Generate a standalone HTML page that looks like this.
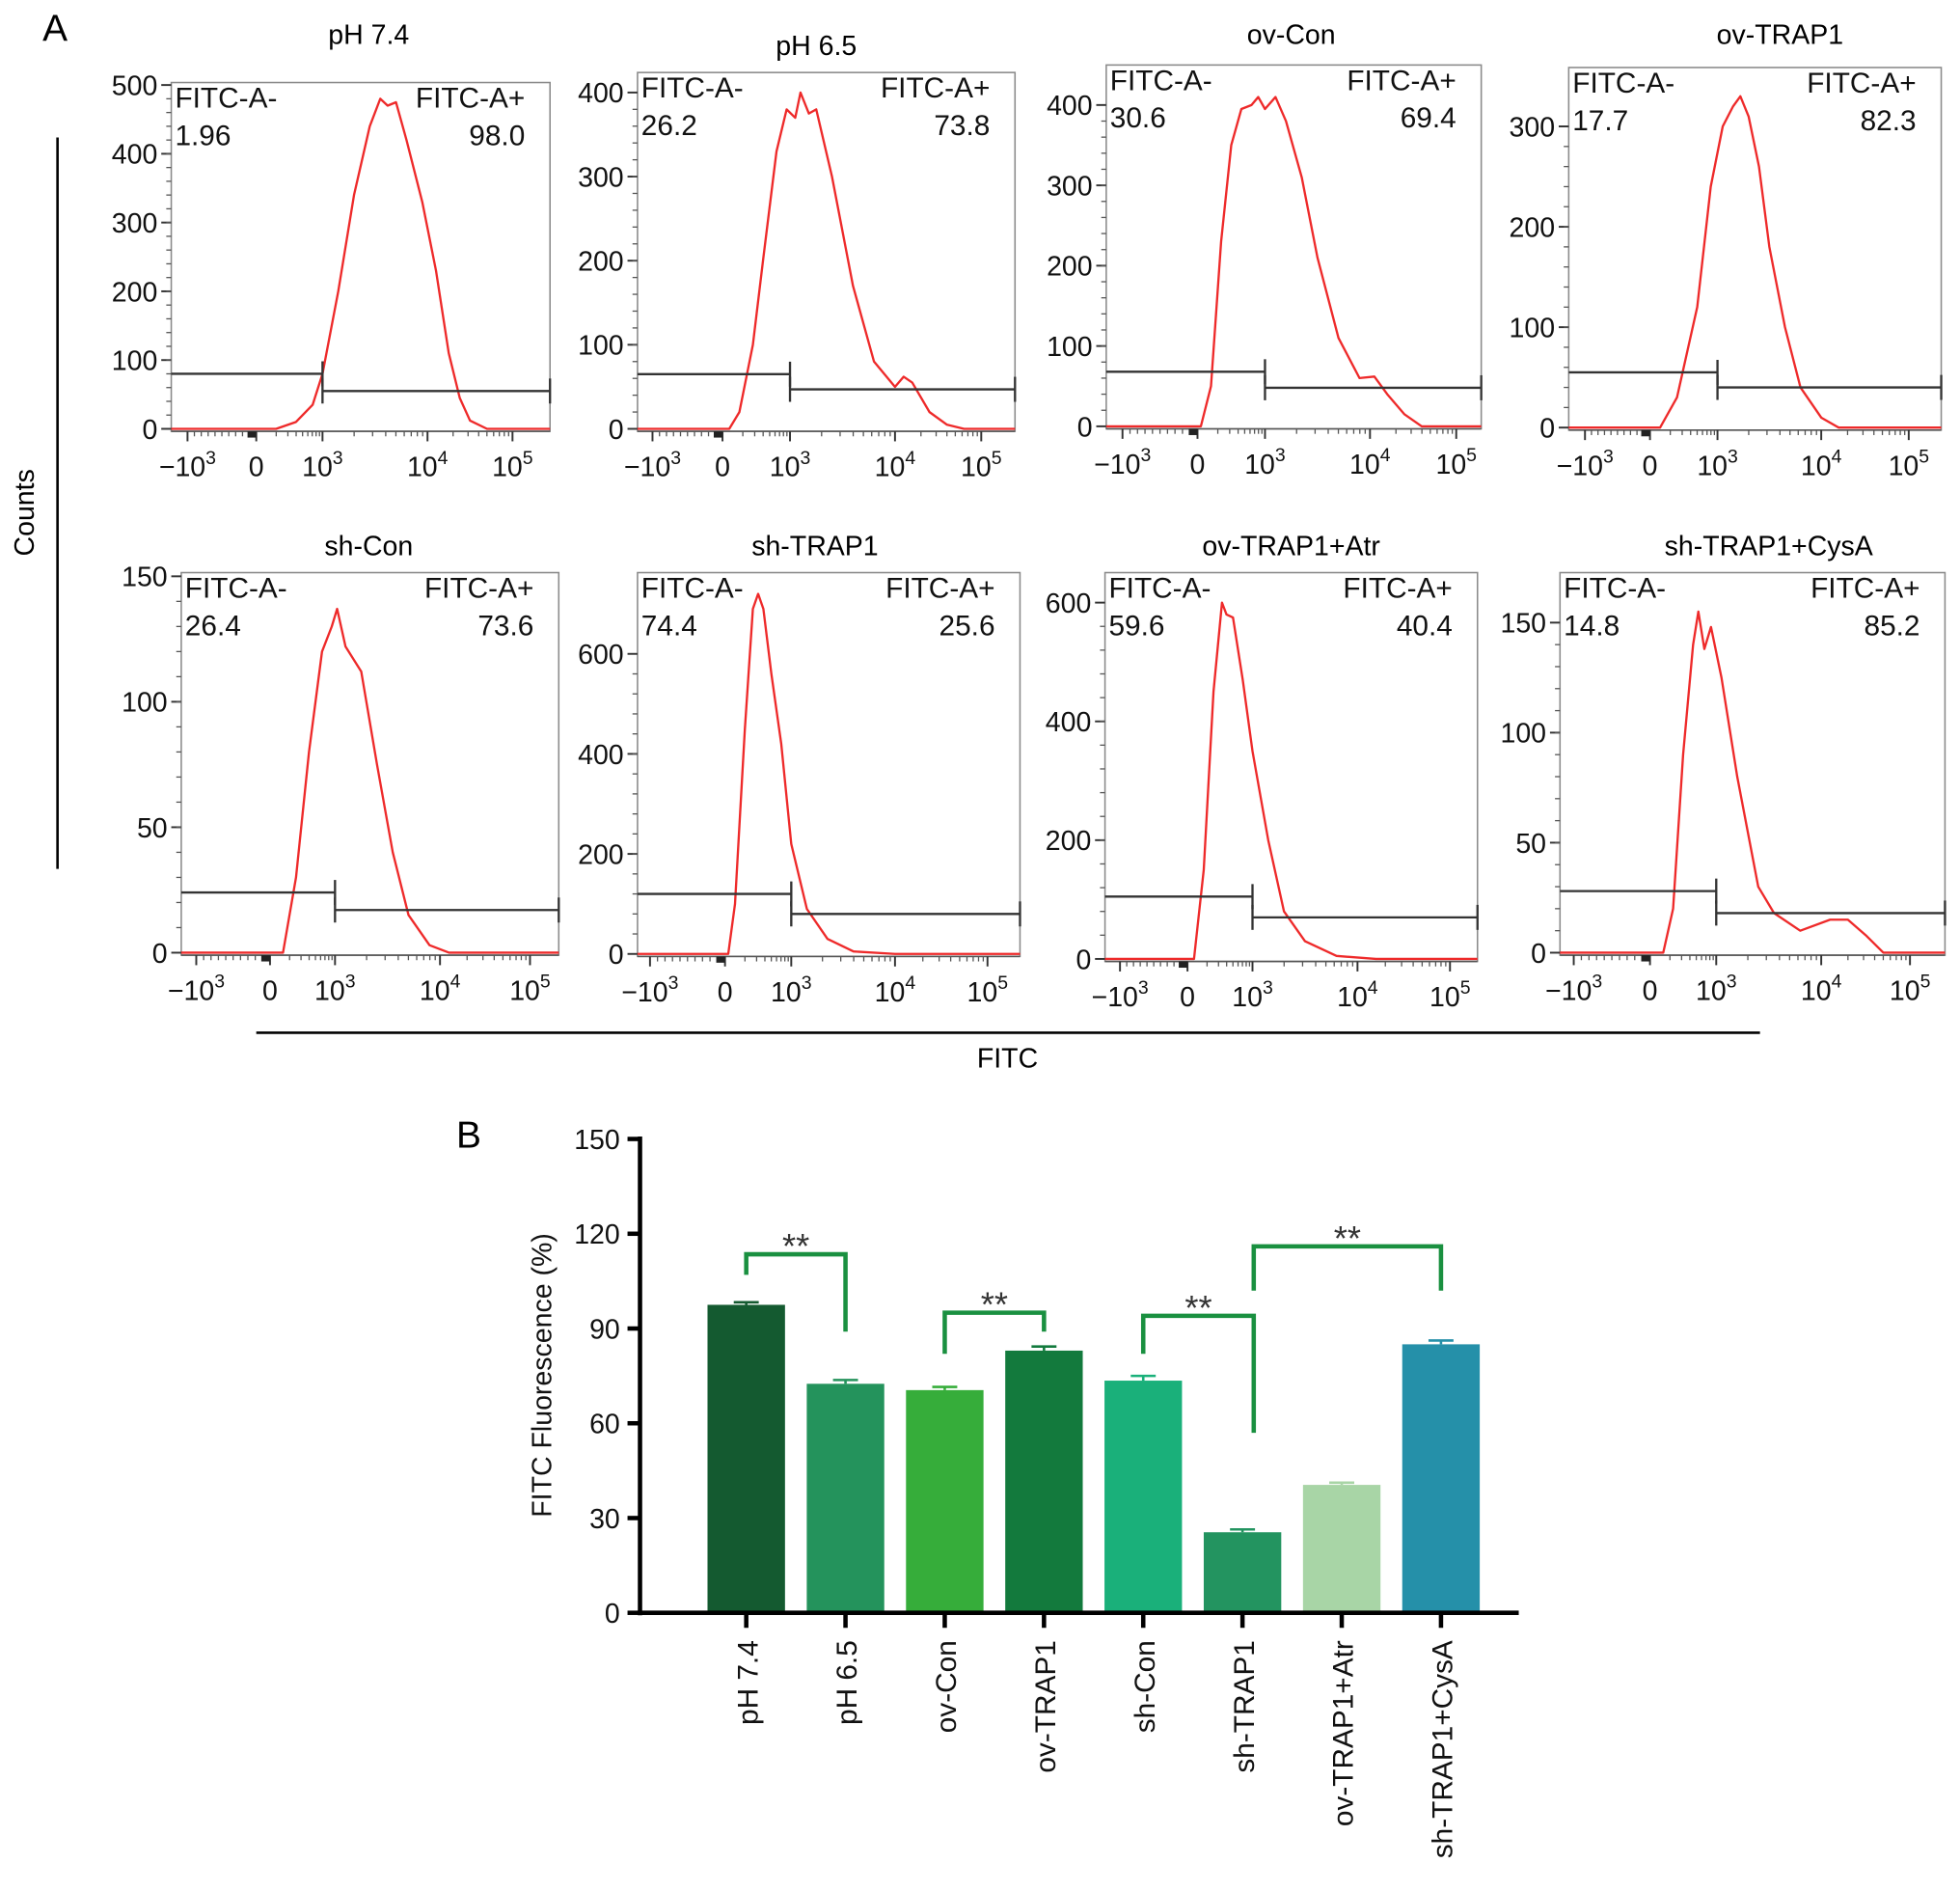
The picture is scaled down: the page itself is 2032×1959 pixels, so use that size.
<!DOCTYPE html>
<html><head><meta charset="utf-8"><style>
html,body{margin:0;padding:0;background:#fff}
svg{display:block;font-family:"Liberation Sans",Arial,sans-serif}
</style></head><body>
<svg id="fig" xmlns="http://www.w3.org/2000/svg" width="2032" height="1959" viewBox="0 0 1568 1511.7">
<text x="34" y="33" font-size="30">A</text>
<text x="365" y="918" font-size="30">B</text>
<line x1="46" y1="110" x2="46" y2="695" stroke="#000" stroke-width="2"/>
<text x="0" y="0" transform="translate(27,410) rotate(-90)" text-anchor="middle" font-size="22">Counts</text>
<line x1="205" y1="826" x2="1408" y2="826" stroke="#000" stroke-width="2"/>
<text x="806" y="854" text-anchor="middle" font-size="22">FITC</text>
<g id="hists"></g>
<g id="bars"></g>
</svg>
<script>
// ---------- Panel A data (x in decade units: -1=-10^3, 0=0, 1=10^3, 2=10^4, 3=10^5) ----------
const histTitles = ["pH 7.4","pH 6.5","ov-Con","ov-TRAP1","sh-Con","sh-TRAP1","ov-TRAP1+Atr","sh-TRAP1+CysA"];
const negPct = ["1.96","26.2","30.6","17.7","26.4","74.4","59.6","14.8"];
const posPct = ["98.0","73.8","69.4","82.3","73.6","25.6","40.4","85.2"];
const gateNeg = [80,65,68,55,24,120,105,28];
const gatePos = [55,47,48,40,17,80,70,18];
const yTickSets = [[0,100,200,300,400,500],[0,100,200,300,400],[0,100,200,300,400],[0,100,200,300],[0,50,100,150],[0,200,400,600],[0,200,400,600],[0,50,100,150]];
const curvePH74 = [[-1.4,0],[0.3,0],[0.6,10],[0.85,35],[1.0,80],[1.15,200],[1.3,340],[1.45,440],[1.55,480],[1.62,470],[1.7,475],[1.8,420],[1.95,330],[2.1,230],[2.25,110],[2.38,45],[2.5,12],[2.7,0],[3.5,0]];
const curvePH65 = [[-1.4,0],[0.1,0],[0.25,20],[0.45,100],[0.6,200],[0.8,330],[0.95,380],[1.05,370],[1.1,400],[1.18,375],[1.25,380],[1.4,300],[1.6,170],[1.8,80],[2.0,50],[2.1,62],[2.2,55],[2.4,20],[2.6,5],[2.8,0],[3.5,0]];
const curveOvCon = [[-1.4,0],[0.05,0],[0.2,50],[0.35,230],[0.5,350],[0.65,395],[0.8,400],[0.9,410],[1.0,395],[1.1,410],[1.2,380],[1.35,310],[1.5,210],[1.7,110],[1.9,60],[2.05,62],[2.2,40],[2.4,15],[2.6,0],[3.5,0]];
const curveOvTRAP1 = [[-1.4,0],[0.15,0],[0.4,30],[0.7,120],[0.9,240],[1.05,300],[1.15,320],[1.22,330],[1.3,310],[1.4,260],[1.5,180],[1.65,100],[1.8,40],[2.0,10],[2.2,0],[3.5,0]];
const curveShCon = [[-1.4,0],[0.2,0],[0.4,30],[0.6,80],[0.8,120],[0.95,130],[1.02,137],[1.1,122],[1.25,112],[1.4,75],[1.55,40],[1.7,15],[1.9,3],[2.1,0],[3.5,0]];
const curveShTRAP1 = [[-1.4,0],[0.05,0],[0.15,100],[0.3,450],[0.42,690],[0.5,720],[0.58,690],[0.7,560],[0.85,420],[1.0,220],[1.15,90],[1.35,30],[1.6,5],[2.0,0],[3.5,0]];
const curveOvAtr = [[-1.4,0],[0.1,0],[0.25,150],[0.4,450],[0.53,600],[0.6,580],[0.7,575],[0.85,470],[1.0,350],[1.15,200],[1.3,80],[1.5,30],[1.8,5],[2.2,0],[3.5,0]];
const curveShCysA = [[-1.4,0],[0.2,0],[0.35,20],[0.5,90],[0.65,140],[0.73,155],[0.82,138],[0.92,148],[1.05,125],[1.2,80],[1.4,30],[1.55,18],[1.8,10],[2.1,15],[2.3,15],[2.5,8],[2.7,0],[3.5,0]];
const curves = [curvePH74,curvePH65,curveOvCon,curveOvTRAP1,curveShCon,curveShTRAP1,curveOvAtr,curveShCysA];

// ---------- Panel B data ----------
const barCats = ["pH 7.4","pH 6.5","ov-Con","ov-TRAP1","sh-Con","sh-TRAP1","ov-TRAP1+Atr","sh-TRAP1+CysA"];
const barVals = [97.5,72.5,70.5,83,73.5,25.5,40.5,85];
const barErrs = [0.8,1.2,1.0,1.3,1.5,0.9,0.7,1.2];
const barTicks = [0,30,60,90,120,150];
const sigPairs = [[0,1],[2,3],[4,5],[5,7]];
const sigTop = [113.5,95,94,116];
const sigLeftEnd = [107,82,82,102];
const sigRightEnd = [89,89,57,102];

// ---------- layout (pixels) ----------
const layout = [
 {l:137,r:440,t:66,y0:343,xt:[150,205,258,342,410],k:0.55,tx:295,ty:35},
 {l:510,r:812,t:58,y0:343,xt:[522,578,632,716,785],k:0.6725,tx:653,ty:44},
 {l:885,r:1185,t:52,y0:341,xt:[898,958,1012,1096,1165],k:0.6425,tx:1033,ty:35},
 {l:1255,r:1553,t:54,y0:342,xt:[1268,1320,1374,1457,1527],k:0.803,tx:1424,ty:35},
 {l:145,r:447,t:458,y0:762,xt:[157,216,268,352,424],k:2.007,tx:295,ty:444},
 {l:510,r:816,t:458,y0:763,xt:[520,580,633,716,790],k:0.4,tx:652,ty:444},
 {l:884,r:1182,t:458,y0:767,xt:[896,950,1002,1086,1160],k:0.475,tx:1033,ty:444},
 {l:1248,r:1556,t:458,y0:762,xt:[1259,1320,1373,1457,1528],k:1.76,tx:1415,ty:444}
];
const NS="http://www.w3.org/2000/svg";
function mk(tag,attrs,parent,txt){const e=document.createElementNS(NS,tag);for(const a in attrs)e.setAttribute(a,attrs[a]);if(txt!==undefined)e.textContent=txt;parent.appendChild(e);return e;}
function xMap(L,d){const xt=L.xt;const i=Math.max(0,Math.min(3,Math.floor(d+1)));return xt[i]+(d+1-i)*(xt[i+1]-xt[i]);}
const hg=document.getElementById('hists');
layout.forEach((L,p)=>{
  const g=mk('g',{},hg);
  
  
  const yMap=v=>L.y0-v*L.k;
  const t=mk('text',{x:L.tx,y:L.ty,'text-anchor':'middle','font-size':22},g,histTitles[p]);
  
  
  const box=mk('rect',{x:L.l,y:L.t,width:L.r-L.l,height:L.y0-L.t+2,fill:'none',stroke:'#8a8a8a','stroke-width':1.2},g);
  
  
  yTickSets[p].forEach(v=>{
    const y=yMap(v);
    mk('line',{x1:L.l-8,y1:y,x2:L.l,y2:y,stroke:'#333','stroke-width':1.5},g);
    const tl=mk('text',{x:L.l-11,y:y+8,'text-anchor':'end','font-size':22,fill:'#111'},g,String(v));
    
    
  });
  const ys=yTickSets[p];const step=ys[1]-ys[0];
  for(let v=step/5;v<ys[ys.length-1];v+=step/5){mk('line',{x1:L.l-4,y1:yMap(v),x2:L.l,y2:yMap(v),stroke:'#555','stroke-width':1},g);}
  const base=L.y0+2;
  mk('line',{x1:L.l,y1:base,x2:L.r,y2:base,stroke:'#555','stroke-width':1.2},g);
  const labs=[['−10','3'],['0',''],['10','3'],['10','4'],['10','5']];
  L.xt.forEach((x,i)=>{
    mk('line',{x1:x,y1:base,x2:x,y2:base+8,stroke:'#333','stroke-width':1.5},g);
    const tl=mk('text',{x:x,y:base+36,'text-anchor':'middle','font-size':22,fill:'#111'},g,labs[i][0]);
    if(labs[i][1]){mk('tspan',{dy:-10,'font-size':15},tl,labs[i][1]);}
    
    
  });
  for(let i=1;i<4;i++){for(let m=2;m<10;m++){const x=L.xt[i]+Math.log10(m)*(L.xt[i+1]-L.xt[i]);if(x<L.r)mk('line',{x1:x,y1:base,x2:x,y2:base+4,stroke:'#555','stroke-width':1},g);}}
  for(let m=1;m<10;m++){const x=L.xt[0]+m*(L.xt[1]-L.xt[0])/10;mk('line',{x1:x,y1:base,x2:x,y2:base+4,stroke:'#555','stroke-width':1},g);}
  mk('rect',{x:L.xt[1]-7,y:base,width:7,height:5,fill:'#222'},g);
  const pts=curves[p].map(([d,c])=>[Math.max(L.l,Math.min(L.r,xMap(L,d))),yMap(c)]);
  const path=mk('polyline',{points:pts.map(q=>q[0].toFixed(1)+','+q[1].toFixed(1)).join(' '),fill:'none',stroke:'#ee2a2a','stroke-width':1.8,'stroke-linejoin':'round'},g);
  
  
  const gx=xMap(L,1);
  const gn=mk('g',{stroke:'#333','stroke-width':1.8},g);
  
  
  mk('line',{x1:L.l,y1:yMap(gateNeg[p]),x2:gx,y2:yMap(gateNeg[p])},gn);
  mk('line',{x1:gx,y1:yMap(gateNeg[p])-10,x2:gx,y2:yMap(gateNeg[p])+10},gn);
  const gp=mk('g',{stroke:'#333','stroke-width':1.8},g);
  
  
  mk('line',{x1:gx,y1:yMap(gatePos[p]),x2:L.r,y2:yMap(gatePos[p])},gp);
  mk('line',{x1:gx,y1:yMap(gatePos[p])-10,x2:gx,y2:yMap(gatePos[p])+10},gp);
  mk('line',{x1:L.r,y1:yMap(gatePos[p])-10,x2:L.r,y2:yMap(gatePos[p])+10},gp);
  const a=mk('text',{x:L.l+3,y:L.t+20,'font-size':23,fill:'#111'},g,'FITC-A-');
  
  
  const b=mk('text',{x:L.l+3,y:L.t+50,'font-size':23,fill:'#111'},g,negPct[p]);
  
  
  const c=mk('text',{x:L.r-20,y:L.t+20,'font-size':23,fill:'#111','text-anchor':'end'},g,'FITC-A+');
  
  
  const d=mk('text',{x:L.r-20,y:L.t+50,'font-size':23,fill:'#111','text-anchor':'end'},g,posPct[p]);
  
  
});

// ---------- bar chart ----------
const bg=document.getElementById('bars');
const B={x0:512,x1:1215,y0:1290,y150:911,c0:597,dc:79.4,w:62};
const bColors=['#145a30','#24935c','#36ad3a','#137a3d','#1ab07a','#239460','#a8d5a6','#2590a9'];
const bY=v=>B.y0-(v/150)*(B.y0-B.y150);
const bX=i=>B.c0+i*B.dc;
barVals.forEach((v,i)=>{
  const r=mk('rect',{x:bX(i)-B.w/2,y:bY(v),width:B.w,height:B.y0-bY(v),fill:bColors[i]},bg);
  
  
  const e=mk('g',{stroke:bColors[i],'stroke-width':2},bg);
  
  
  mk('line',{x1:bX(i),y1:bY(v),x2:bX(i),y2:bY(v+barErrs[i])},e);
  mk('line',{x1:bX(i)-10,y1:bY(v+barErrs[i]),x2:bX(i)+10,y2:bY(v+barErrs[i])},e);
});
const ax=mk('g',{stroke:'#000','stroke-width':3.5},bg);


mk('line',{x1:B.x0,y1:B.y150-2,x2:B.x0,y2:B.y0+2},ax);
mk('line',{x1:B.x0-2,y1:B.y0,x2:B.x1,y2:B.y0},ax);
barTicks.forEach(v=>{
  mk('line',{x1:B.x0-10,y1:bY(v),x2:B.x0,y2:bY(v)},ax);
  const t=mk('text',{x:B.x0-16,y:bY(v)+8,'text-anchor':'end','font-size':22,fill:'#111'},bg,String(v));
  
  
});
barCats.forEach((c,i)=>{
  mk('line',{x1:bX(i),y1:B.y0,x2:bX(i),y2:B.y0+12},ax);
  const t=mk('text',{x:0,y:0,transform:'translate('+(bX(i)+9)+','+(B.y0+22)+') rotate(-90)','text-anchor':'end','font-size':23,fill:'#111'},bg,c);
  
  
});
const yl=mk('text',{x:0,y:0,transform:'translate(441,1100) rotate(-90)','text-anchor':'middle','font-size':22,fill:'#111'},bg,'FITC Fluorescence (%)');


sigPairs.forEach(([a,b],k)=>{
  const xa=bX(a)+(k==3?9:0), xb=bX(b)+(k==2?9:0);
  const s=mk('polyline',{points:xa+','+bY(sigLeftEnd[k])+' '+xa+','+bY(sigTop[k])+' '+xb+','+bY(sigTop[k])+' '+xb+','+bY(sigRightEnd[k]),fill:'none',stroke:'#1a9040','stroke-width':3.5},bg);
  
  
  const t=mk('text',{x:(xa+xb)/2,y:bY(sigTop[k])+3,'text-anchor':'middle','font-size':28,fill:'#333'},bg,'**');
  
  
});
</script>
</body></html>
